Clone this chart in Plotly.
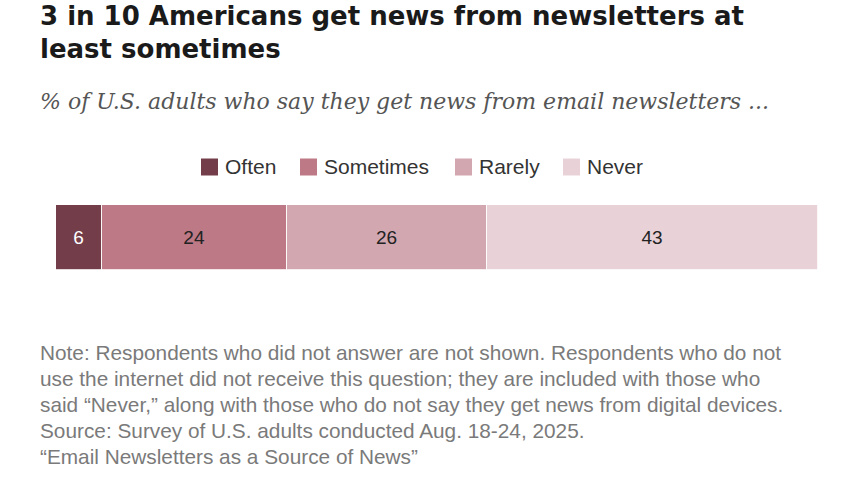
import plotly.graph_objects as go

categories = ["Often", "Sometimes", "Rarely", "Never"]
values = [6, 24, 26, 43]
colors = ["#733d49", "#bd7985", "#d2a7b0", "#e8d2d8"]
label_colors = ["#ffffff", "#222222", "#222222", "#222222"]
row = ["All"]

title_lines = ["3 in 10 Americans get news from newsletters at", "least sometimes"]
subtitle = "% of U.S. adults who say they get news from email newsletters ..."
note_lines = [
    "Note: Respondents who did not answer are not shown. Respondents who do not",
    "use the internet did not receive this question; they are included with those who",
    "said \u201cNever,\u201d along with those who do not say they get news from digital devices.",
    "Source: Survey of U.S. adults conducted Aug. 18-24, 2025.",
    "\u201cEmail Newsletters as a Source of News\u201d",
]

W, H = 856, 481
L, R, T, B = 56, 818, 205, 270

def px(x):
    return (x - L) / (R - L)

def py(y):
    return (B - y) / (B - T)

sans = "Liberation Sans, Arial, sans-serif"

fig = go.Figure()
for cat, v, c, lc in zip(categories, values, colors, label_colors):
    fig.add_trace(go.Bar(
        y=row, x=[v], name=cat, orientation="h",
        marker=dict(color=c, line=dict(color="white", width=0.8)),
        text=[str(v)], textposition="inside", insidetextanchor="middle",
        textfont=dict(family=sans, size=19, color=lc),
        hoverinfo="skip", showlegend=False,
    ))

annotations = []
shapes = []
title_font = dict(family="DejaVu Sans, sans-serif", size=26, color="#1a1a1a")
for line, yc in zip(title_lines, [15.5, 48.5]):
    annotations.append(dict(text="<b>" + line + "</b>", x=px(38), y=py(yc), xref="paper", yref="paper",
                            xanchor="left", yanchor="middle", showarrow=False, font=title_font))
annotations.append(dict(text="<i>" + subtitle + "</i>", x=px(38), y=py(102), xref="paper", yref="paper",
                        xanchor="left", yanchor="middle", showarrow=False,
                        font=dict(family="DejaVu Serif, Georgia, serif", size=22, color="#555555")))

# legend
leg_sq = [201, 300, 455, 563]
for cat, c, sx in zip(categories, colors, leg_sq):
    shapes.append(dict(type="rect", xref="paper", yref="paper", x0=px(sx), x1=px(sx + 17),
                       y0=py(175.5), y1=py(158.5), fillcolor=c, line=dict(width=0)))
    annotations.append(dict(text=cat, x=px(sx + 22), y=py(166.5), xref="paper", yref="paper",
                            xanchor="left", yanchor="middle", showarrow=False,
                            font=dict(family=sans, size=21, color="#333333")))

note_font = dict(family=sans, size=20.8, color="#7a7a7a")
for i, line in enumerate(note_lines):
    annotations.append(dict(text=line, x=px(38), y=py(352 + 26 * i), xref="paper", yref="paper",
                            xanchor="left", yanchor="middle", showarrow=False, font=note_font))

fig.update_layout(
    width=W, height=H, barmode="stack", bargap=0,
    margin=dict(l=L, r=W - R, t=T, b=H - B, pad=0),
    paper_bgcolor="white", plot_bgcolor="white",
    xaxis=dict(range=[0, sum(values)], visible=False, fixedrange=True),
    yaxis=dict(visible=False, fixedrange=True),
    annotations=annotations, shapes=shapes,
    uniformtext=dict(mode="show", minsize=10),
)
fig.write_html("out.html")
